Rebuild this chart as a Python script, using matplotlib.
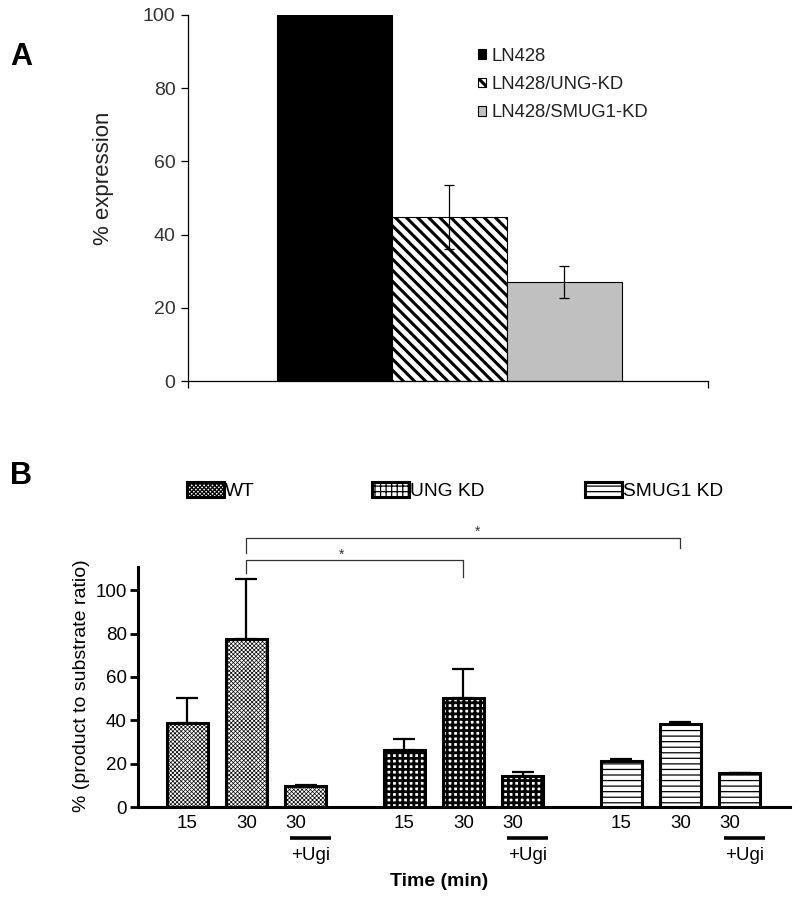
import numpy as np
import matplotlib
matplotlib.use("Agg")
import matplotlib.pyplot as plt

plt.rcParams['font.family'] = ['Liberation Sans', 'DejaVu Sans']

# ========== data ==========
# panel A
lines_a = ['LN428', 'LN428/UNG-KD', 'LN428/SMUG1-KD']
expr_a = [100, 44.8, 27.0]
expr_err_a = [0, 8.7, 4.3]

# panel B
groups_b = ['WT', 'UNG KD', 'SMUG1 KD']
time_labels_b = ['15', '30', '30']
wt_b = [38.7, 77.4, 9.7]
wt_err_b = [11.5, 27.6, 0.6]
ung_b = [26.3, 50.2, 14.3]
ung_err_b = [5.0, 13.4, 1.8]
smug_b = [21.2, 38.2, 15.7]
smug_err_b = [0.8, 1.0, 0.0]
# ==========================

fig = plt.figure(figsize=(8, 9.02), dpi=100)

# ---------- panel A ----------
axA = fig.add_axes([0.235, 0.5776, 0.65, 0.4058])
styles_a = [dict(color='black', hatch=None),
            dict(color='white', hatch='\\\\\\'),
            dict(color='#c0c0c0', hatch=None)]
bars_a = []
for i, (lab, val, st) in enumerate(zip(lines_a, expr_a, styles_a)):
    plt.rcParams['hatch.linewidth'] = 2.2
    b = axA.bar(i, val, width=1.0, color=st['color'], edgecolor='black',
                hatch=st['hatch'], linewidth=0.8, label=lab, zorder=2)
    bars_a.append(b)
    if expr_err_a[i] > 0:
        axA.errorbar(i, val, yerr=expr_err_a[i], fmt='none', ecolor='black',
                     elinewidth=0.9, capsize=3.3, capthick=0.9, zorder=3)

axA.set_xlim(-1.27, 3.25)
axA.set_ylim(0, 100)
axA.set_yticks([0, 20, 40, 60, 80, 100])
axA.set_xticks([-1.27, 3.25])
axA.set_xticklabels([])
for s in ['top', 'right']:
    axA.spines[s].set_visible(False)
for s in ['left', 'bottom']:
    axA.spines[s].set_linewidth(0.9)
axA.tick_params(axis='y', direction='out', length=5, width=0.9,
                labelsize=14, labelcolor='#333333', pad=4)
axA.tick_params(axis='x', direction='out', length=5, width=0.9)

axA.legend(handles=bars_a, labels=lines_a, loc='upper left',
           bbox_to_anchor=(478 / 800, 1 - 48 / 902), bbox_transform=fig.transFigure,
           frameon=False, fontsize=13.3, handlelength=0.45, handleheight=0.45,
           handletextpad=0.3, labelspacing=0.6, borderpad=0, borderaxespad=0,
           labelcolor='#222222')

fig.text(104 / 800, 1 - 178 / 902, '% expression', rotation=90, ha='center',
         va='center', fontsize=16, color='#222222')
fig.text(21 / 800, 1 - 57 / 902, 'A', ha='center', va='center', fontsize=22,
         fontweight='bold')

# ---------- panel B ----------
axB = fig.add_axes([0.1725, 0.1053, 0.815, 0.2661])
gap = 3.66
width = 0.69
series_b = [wt_b, ung_b, smug_b]
errs_b = [wt_err_b, ung_err_b, smug_err_b]
hatches_b = ['xxxxxxxx', '+++', '---']
hatch_lw = [0.5, 2.0, 0.9]
bars_b = []
for g, (name, vals, errs) in enumerate(zip(groups_b, series_b, errs_b)):
    pos = np.arange(3) + g * gap
    plt.rcParams['hatch.linewidth'] = hatch_lw[g]
    b = axB.bar(pos, vals, width=width, color='white', edgecolor='black',
                hatch=hatches_b[g], linewidth=2.2, label=name, zorder=2)
    bars_b.append(b)
    axB.errorbar(pos, vals, yerr=[np.zeros(3), errs], fmt='none', ecolor='black',
                 elinewidth=1.6, capsize=8, capthick=1.6, zorder=1)
    for i in range(3):
        if i < 2:
            axB.text(pos[i], -7.4, time_labels_b[i], ha='center', va='center',
                     fontsize=13.5, clip_on=False)
        else:
            axB.text(pos[i] - width / 2, -7.4, time_labels_b[i], ha='left',
                     va='center', fontsize=13.5, clip_on=False)
            axB.plot([pos[i] - width / 2 + 0.08, pos[i] + width / 2 + 0.08],
                     [-14.3, -14.3], color='black', lw=2.6,
                     solid_capstyle='butt', clip_on=False)
            axB.text(pos[i] + 0.08, -22.3, '+Ugi', ha='center', va='center',
                     fontsize=13.5, clip_on=False)

axB.set_xlim(-0.83, 10.17)
axB.set_ylim(0, 110.7)
axB.set_yticks([0, 20, 40, 60, 80, 100])
axB.set_xticks([])
for s in ['top', 'right']:
    axB.spines[s].set_visible(False)
for s in ['left', 'bottom']:
    axB.spines[s].set_linewidth(2.2)
axB.tick_params(axis='y', direction='out', length=6, width=2.0,
                labelsize=13.5, pad=2)

# significance brackets
x_wt30 = 1
x_ung30 = 1 + gap
x_smug30 = 1 + 2 * gap
axB.plot([x_wt30, x_wt30, x_ung30, x_ung30], [107.8, 113.9, 113.9, 106.0],
         color='#333333', lw=0.9, clip_on=False)
axB.text(2.61, 116.2, '*', ha='center', va='center', fontsize=10, color='#333333')
axB.plot([x_wt30, x_wt30, x_smug30, x_smug30], [117.2, 124.0, 124.0, 119.4],
         color='#333333', lw=0.9, clip_on=False)
axB.text(4.89, 126.8, '*', ha='center', va='center', fontsize=10, color='#333333')

# legend: three separate entries across the top
leg_x = [187, 372, 585]
for b, name, lx in zip(bars_b, groups_b, leg_x):
    fig.legend(handles=[b], labels=[name], loc='center left',
               bbox_to_anchor=(lx / 800, 1 - 491 / 902), frameon=False,
               fontsize=13.8, handlelength=1.95, handleheight=0.85,
               handletextpad=0.05, borderpad=0, borderaxespad=0)

fig.text(439 / 800, 1 - 882 / 902, 'Time (min)', ha='center', va='center',
         fontsize=14, fontweight='bold')
fig.text(82 / 800, 1 - 686 / 902, '% (product to substrate ratio)', rotation=90,
         ha='center', va='center', fontsize=14)
fig.text(21 / 800, 1 - 476 / 902, 'B', ha='center', va='center', fontsize=22,
         fontweight='bold')

fig.savefig('out.png', dpi=100)
